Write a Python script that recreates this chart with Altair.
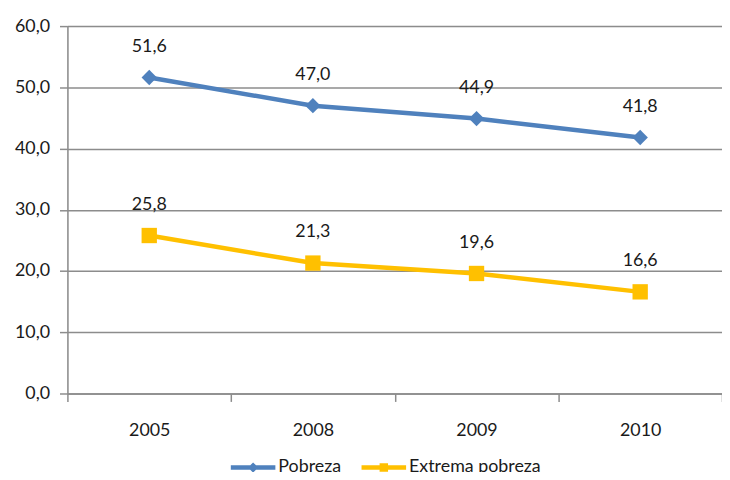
import altair as alt
import pandas as pd

years = ["2005", "2008", "2009", "2010"]
pobreza = [51.6, 47.0, 44.9, 41.8]
extrema = [25.8, 21.3, 19.6, 16.6]
series = ["Pobreza", "Extrema pobreza"]
colors = ["#4F81BD", "#FFC000"]
shapes = ["diamond", "square"]
y_ticks = [0, 10, 20, 30, 40, 50, 60]

rows = []
for s, vals in zip(series, [pobreza, extrema]):
    for yr, v in zip(years, vals):
        rows.append({"anio": yr, "valor": v, "serie": s})
df = pd.DataFrame(rows)

FONT = "Lato"
TXT = "#1A1A1A"
GRID = "#8C8C8C"
FS = 18

# legend symbols: a line with a marker on it (unit coords, scaled by sqrt(size)/2)
P_DIAMOND = "M-1,-0.1H1V0.1H-1Z M0,-0.23L0.23,0L0,0.23L-0.23,0Z"
P_SQUARE = "M-1,-0.1H1V0.1H-1Z M-0.19,-0.19H0.19V0.19H-0.19Z"

x_enc = alt.X(
    "anio:N", sort=years, bandPosition=0.5,
    scale=alt.Scale(type="band", paddingInner=0, paddingOuter=0),
    axis=alt.Axis(title=None, tickBand="extent", grid=False, labelAngle=0,
                  labelFont=FONT, labelFontSize=FS, labelColor=TXT,
                  labelPadding=20, tickSize=8, tickColor=GRID, tickWidth=1.5,
                  domainColor=GRID, domainWidth=1.5),
)
y_enc = alt.Y(
    "valor:Q", scale=alt.Scale(domain=[0, 60], nice=False, zero=True),
    axis=alt.Axis(title=None, values=y_ticks,
                  labelExpr="replace(format(datum.value, '.1f'), '.', ',')",
                  labelFont=FONT, labelFontSize=FS, labelColor=TXT,
                  labelPadding=10, tickSize=8, tickColor=GRID, tickWidth=1.5,
                  domainColor=GRID, domainWidth=1.5,
                  grid=True, gridColor=GRID, gridWidth=1.5),
)

legend = alt.Legend(
    title=None, orient="none", direction="horizontal",
    legendX=165, legendY=423, padding=0, symbolOffset=0,
    symbolSize=2025, labelFont=FONT, labelFontSize=FS, labelColor=TXT,
    labelOffset=3, columnPadding=20, symbolStrokeWidth=0, symbolOpacity=1,
)

color_scale = alt.Scale(domain=series, range=colors)

base = alt.Chart(df)

lines = base.mark_line(strokeWidth=4.5).encode(
    x=x_enc, y=y_enc,
    color=alt.Color("serie:N", scale=color_scale, legend=None),
)

points = base.mark_point(filled=True, size=240, opacity=1).encode(
    x=x_enc, y=y_enc,
    color=alt.Color("serie:N", scale=color_scale, legend=None),
    shape=alt.Shape("serie:N", scale=alt.Scale(domain=series, range=shapes), legend=None),
)

labels = base.transform_calculate(
    lab="replace(format(datum.valor, '.1f'), '.', ',')"
).mark_text(dy=-31, fontSize=FS, font=FONT, color=TXT).encode(
    x=x_enc, y=y_enc, text="lab:N",
)

# legend-only layer (no rows drawn): line-with-marker symbols
legend_layer = base.transform_filter("false").mark_point(
    filled=True, size=2025, opacity=1, strokeWidth=0
).encode(
    x=x_enc, y=y_enc,
    color=alt.Color("serie:N", scale=color_scale, legend=legend),
    shape=alt.Shape("serie:N", scale=alt.Scale(domain=series, range=[P_DIAMOND, P_SQUARE]),
                    legend=legend),
)

chart = alt.layer(lines, points, labels, legend_layer).resolve_scale(
    color="independent", shape="independent"
).properties(
    width=661, height=371,
    autosize=alt.AutoSizeParams(type="none"),
    padding={"left": 60, "top": 16, "right": 0, "bottom": 77},
).configure_view(stroke=None).configure(background="white")

chart.save("out.html", embed_options={"renderer": "svg", "actions": False})
